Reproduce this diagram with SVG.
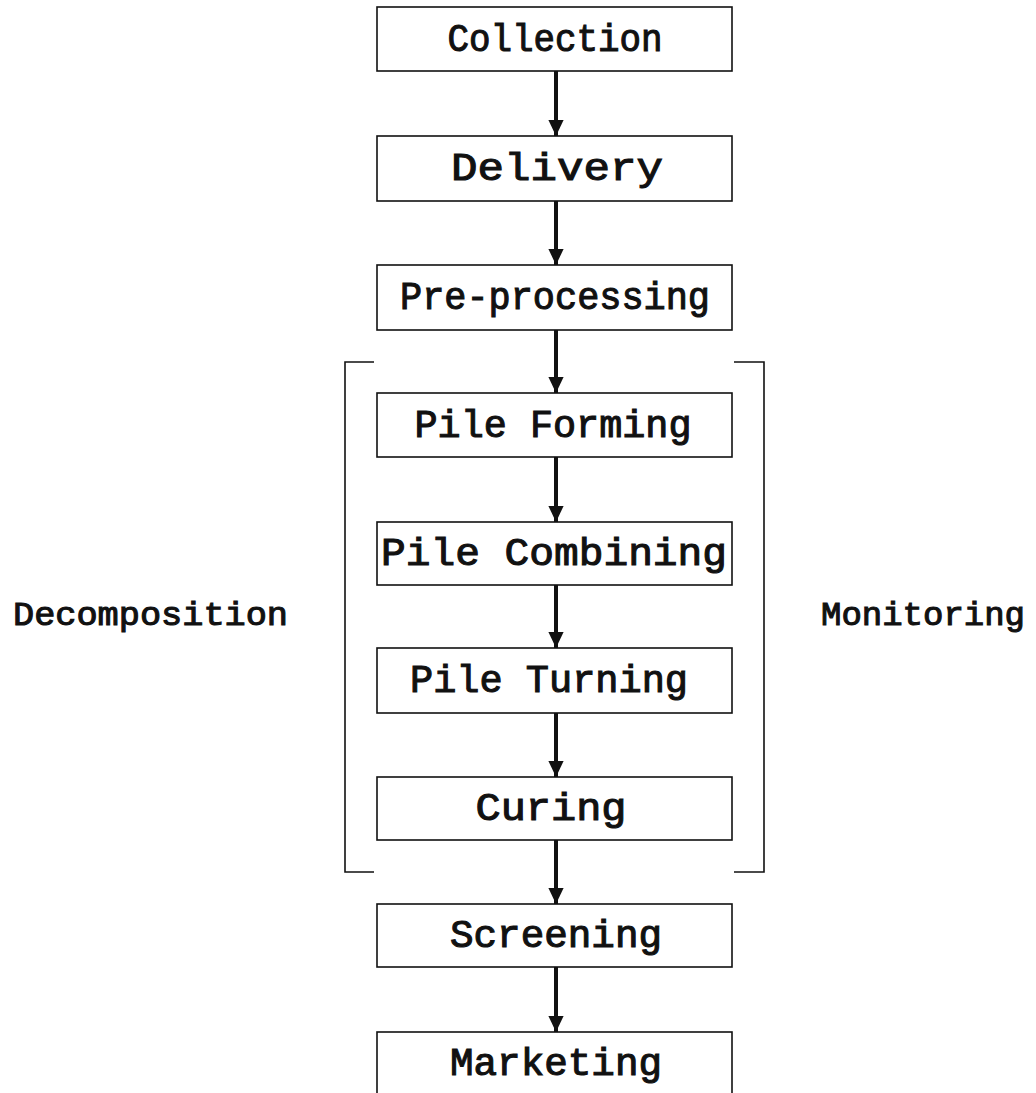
<svg xmlns="http://www.w3.org/2000/svg" width="1036" height="1093" viewBox="0 0 1036 1093">
<style>
.box{fill:#fff;stroke:#111;stroke-width:1.6}
.t{font-family:"Liberation Mono","Courier New",monospace;font-weight:normal;font-size:39px;fill:#111;stroke:#111;stroke-width:1.1;text-anchor:middle}
.side{font-family:"Liberation Mono","Courier New",monospace;font-weight:normal;font-size:34px;fill:#111;stroke:#111;stroke-width:1.1}
.conn{stroke:#111;stroke-width:4;fill:none}
.br{stroke:#111;stroke-width:1.6;fill:none}
</style>
<defs>
<marker id="ah" markerWidth="4" markerHeight="4" refX="4" refY="2" orient="auto" markerUnits="strokeWidth">
<path d="M0,0.1 L4,2 L0,3.9 Z" fill="#111"/>
</marker>
</defs>
<rect width="1036" height="1093" fill="#fff"/>
<g id="connectors">
<line class="conn" x1="556" y1="71" x2="556" y2="136" marker-end="url(#ah)"/>
<line class="conn" x1="556" y1="201" x2="556" y2="265" marker-end="url(#ah)"/>
<line class="conn" x1="556" y1="330" x2="556" y2="393" marker-end="url(#ah)"/>
<line class="conn" x1="556" y1="457" x2="556" y2="522" marker-end="url(#ah)"/>
<line class="conn" x1="556" y1="585" x2="556" y2="648" marker-end="url(#ah)"/>
<line class="conn" x1="556" y1="713" x2="556" y2="777" marker-end="url(#ah)"/>
<line class="conn" x1="556" y1="840" x2="556" y2="904" marker-end="url(#ah)"/>
<line class="conn" x1="556" y1="967" x2="556" y2="1032" marker-end="url(#ah)"/>
</g>
<g id="bracket-left">
<polyline class="br" points="374,362 345,362 345,872 374,872"/>
</g>
<g id="bracket-right">
<polyline class="br" points="734,362 764,362 764,872 734,872"/>
</g>
<g id="collection"><rect class="box" x="377" y="7" width="355" height="64"/><text class="t" x="555" y="51" textLength="215" lengthAdjust="spacingAndGlyphs">Collection</text></g>
<g id="delivery"><rect class="box" x="377" y="136" width="355" height="65"/><text class="t" x="557" y="180" textLength="212" lengthAdjust="spacingAndGlyphs">Delivery</text></g>
<g id="preprocessing"><rect class="box" x="377" y="265" width="355" height="65"/><text class="t" x="555" y="309" textLength="310" lengthAdjust="spacingAndGlyphs">Pre-processing</text></g>
<g id="pileforming"><rect class="box" x="377" y="393" width="355" height="64"/><text class="t" x="553" y="437" textLength="277" lengthAdjust="spacingAndGlyphs">Pile Forming</text></g>
<g id="pilecombining"><rect class="box" x="377" y="522" width="355" height="63"/><text class="t" x="554" y="565" textLength="346" lengthAdjust="spacingAndGlyphs">Pile Combining</text></g>
<g id="pileturning"><rect class="box" x="377" y="648" width="355" height="65"/><text class="t" x="549" y="692" textLength="278" lengthAdjust="spacingAndGlyphs">Pile Turning</text></g>
<g id="curing"><rect class="box" x="377" y="777" width="355" height="63"/><text class="t" x="551" y="820" textLength="151" lengthAdjust="spacingAndGlyphs">Curing</text></g>
<g id="screening"><rect class="box" x="377" y="904" width="355" height="63"/><text class="t" x="556" y="947" textLength="212" lengthAdjust="spacingAndGlyphs">Screening</text></g>
<g id="marketing"><rect class="box" x="377" y="1032" width="355" height="80"/><text class="t" x="556" y="1075" textLength="212" lengthAdjust="spacingAndGlyphs">Marketing</text></g>
<g id="decomposition"><text class="side" x="13" y="625" textLength="275" lengthAdjust="spacingAndGlyphs">Decomposition</text></g>
<g id="monitoring"><text class="side" x="821" y="625" textLength="204" lengthAdjust="spacingAndGlyphs">Monitoring</text></g>
</svg>
